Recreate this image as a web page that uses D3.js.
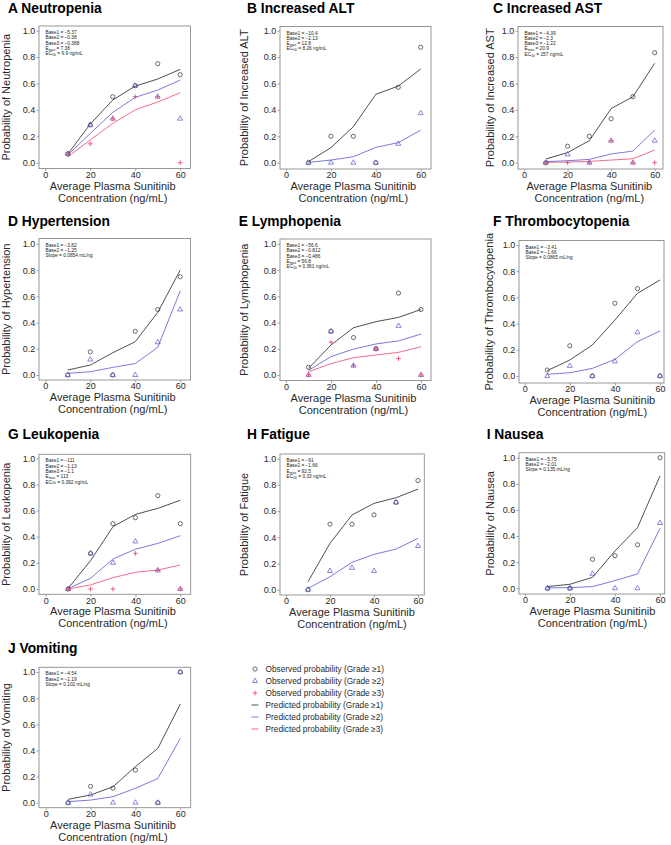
<!DOCTYPE html>
<html><head><meta charset="utf-8">
<script src="https://cdn.jsdelivr.net/npm/d3@7"></script>
<style>body{margin:0;background:#fff}svg{display:block}text{font-family:"Liberation Sans",Arial,Helvetica,sans-serif}</style>
</head><body><svg id="c" width="671" height="845"></svg>
<script>
// ---------------- DATA ----------------
const concentrations = [10, 20, 30, 40, 50, 60];
const panelLetters = ["A","B","C","D","E","F","G","H","I","J"];
const panelTitles = ["Neutropenia","Increased ALT","Increased AST","Hypertension","Lymphopenia",
  "Thrombocytopenia","Leukopenia","Fatigue","Nausea","Vomiting"];
const yAxisLabels = panelTitles.map(t => "Probability of " + t);
const xAxisLabelLines = ["Average Plasma Sunitinib", "Concentration (ng/mL)"];
const xTicks = [0, 20, 40, 60];
const yTicks = [0, 0.2, 0.4, 0.6, 0.8, 1.0];

// observed probabilities (one row per panel A..J)
const obsGrade1 = [
  [0.0667, 0.2857, 0.5, 0.5833, 0.75, 0.6667],
  [0, 0.2, 0.2, 0, 0.5714, 0.875],
  [0, 0.125, 0.2, 0.3333, 0.5, 0.8333],
  [0, 0.1765, 0, 0.3333, 0.5, 0.75],
  [0.0588, 0.3333, 0.2857, 0.2, 0.625, 0.5],
  [0.0455, 0.2308, 0, 0.5556, 0.6667, 0],
  [0, 0.2727, 0.5, 0.5455, 0.7143, 0.5],
  [0, 0.5, 0.5, 0.5714, 0.6667, 0.8333],
  [0, 0, 0.2222, 0.25, 0.3333, 1],
  [0, 0.125, 0.1111, 0.25, 0, 1]
];
const obsGrade2 = [
  [0.0667, 0.2857, 0.3333, 0.5833, 0.5, 0.3333],
  [0, 0, 0, 0, 0.1429, 0.375],
  [0, 0.0625, 0, 0.1667, 0, 0.1667],
  [0, 0.1176, 0, 0, 0.25, 0.5],
  [0, 0.3333, 0.0714, 0.2, 0.375, 0],
  [0, 0.0769, 0, 0.1111, 0.3333, 0],
  [0, 0.2727, 0.2, 0.3636, 0.1429, 0],
  [0, 0.1429, 0.1667, 0.1429, 0.6667, 0.3333],
  [0, 0, 0.1111, 0, 0, 0.5],
  [0, 0.0625, 0, 0, 0, 1]
];
const obsGrade3 = [
  [0.0667, 0.1429, 0.3333, 0.5, 0.5, 0],
  null,
  [0, 0, 0, 0.1667, 0, 0],
  null,
  [0, 0.25, 0.0714, 0.2, 0.125, 0],
  null,
  [0, 0, 0, 0.2727, 0.1429, 0],
  null, null, null
];
// predicted probabilities
const predGrade1 = [
  [0.066, 0.293, 0.475, 0.58, 0.634, 0.707],
  [0.008, 0.114, 0.273, 0.518, 0.58, 0.71],
  [0.028, 0.076, 0.167, 0.41, 0.5, 0.753],
  [0.038, 0.076, 0.17, 0.254, 0.478, 0.8],
  [0.051, 0.229, 0.361, 0.407, 0.44, 0.5],
  [0.041, 0.122, 0.237, 0.427, 0.631, 0.733],
  [0.005, 0.217, 0.477, 0.571, 0.617, 0.679],
  [0.061, 0.354, 0.57, 0.659, 0.702, 0.768],
  [0.013, 0.031, 0.084, 0.286, 0.464, 0.86],
  [0.026, 0.059, 0.122, 0.276, 0.416, 0.755]
];
const predGrade2 = [
  [0.058, 0.222, 0.381, 0.495, 0.55, 0.626],
  [0.002, 0.02, 0.045, 0.116, 0.152, 0.247],
  [0.008, 0.015, 0.025, 0.066, 0.088, 0.247],
  [0.013, 0.025, 0.058, 0.087, 0.211, 0.641],
  [0.036, 0.14, 0.198, 0.237, 0.26, 0.313],
  [0.013, 0.025, 0.058, 0.127, 0.262, 0.344],
  [0.003, 0.082, 0.23, 0.304, 0.349, 0.408],
  [0.01, 0.099, 0.209, 0.27, 0.31, 0.392],
  [0.003, 0.005, 0.013, 0.059, 0.11, 0.459],
  [0.008, 0.02, 0.046, 0.11, 0.186, 0.492]
];
const predGrade3 = [
  [0.045, 0.172, 0.298, 0.4, 0.46, 0.53],
  null,
  [0.003, 0.005, 0.01, 0.02, 0.03, 0.096],
  null,
  [0.025, 0.087, 0.132, 0.153, 0.173, 0.216],
  null,
  [0, 0.031, 0.087, 0.128, 0.145, 0.184],
  null, null, null
];
const annotations = [
  ["Base1 = \u22125.37","Base2 = \u22120.38","Base3 = \u22120.388","E_max = 7.38","EC_50 = 9.9 ng/mL"],
  ["Base1 = \u221210.4","Base2 = \u22122.13","E_max = 12.8","EC_50 = 8.26 ng/mL"],
  ["Base1 = \u22124.39","Base2 = \u22122.3","Base3 = \u22121.22","E_max = 20.9","EC_50 = 157 ng/mL"],
  ["Base1 = \u22123.82","Base2 = \u22121.25","Slope = 0.0854 mL/ng"],
  ["Base1 = \u221256.6","Base2 = \u22120.812","Base3 = \u22120.486","E_max = 56.8","EC_50 = 0.361 ng/mL"],
  ["Base1 = \u22123.41","Base2 = \u22121.66","Slope = 0.0865 mL/ng"],
  ["Base1 = \u2212111","Base2 = \u22121.13","Base3 = \u22121.1","E_max = 113","EC_50 = 0.392 ng/mL"],
  ["Base1 = \u221291","Base2 = \u22121.66","E_max = 92.5","EC_50 = 0.33 ng/mL"],
  ["Base1 = \u22125.75","Base2 = \u22122.01","Slope = 0.135 mL/ng"],
  ["Base1 = \u22124.54","Base2 = \u22121.19","Slope = 0.102 mL/ng"]
];
const legendLabels = [
  "Observed probability (Grade \u22651)","Observed probability (Grade \u22652)","Observed probability (Grade \u22653)",
  "Predicted probability (Grade \u22651)","Predicted probability (Grade \u22652)","Predicted probability (Grade \u22653)"
];

// ---------------- LAYOUT ----------------
// box [left, top, right, bottom]; axis anchors [x(0), x(60), y(0), y(1)]; title [x, y]; y-label x
const layout = [
  {box:[39,26,190.5,168.5],  ax:[45.3,180.2,162.7,30.7], title:[8,12.5],     ylx:10},
  {box:[280,26.5,431,169],   ax:[286,420.7,162.7,30.7],  title:[247,12.5],   ylx:248},
  {box:[518,26.5,663,169],   ax:[524,654.7,162.7,30.7],  title:[493,12.5],   ylx:494},
  {box:[39,238.5,190.5,380], ax:[45.3,180.2,375,244],    title:[8,225.5],    ylx:10},
  {box:[280,239,431,380.5],  ax:[286,421,375,244],       title:[238.7,225.5],ylx:248},
  {box:[519,240.5,664,383],  ax:[524.7,660,376,245],     title:[493,225.7],  ylx:493},
  {box:[39,454.3,190.7,594.3],ax:[45.7,180.3,589,458.3], title:[8,439.3],    ylx:10},
  {box:[280,454,424.3,595],  ax:[286,418,589.7,458.7],   title:[247,439.3],  ylx:248},
  {box:[519,452.7,664.7,594],ax:[525,660,588.3,457.7],   title:[486.7,439.3],ylx:494},
  {box:[39,667.3,190.7,807.7],ax:[45.7,180.3,802.7,672], title:[8,653],      ylx:10}
];
const colG1 = "#3c3c3c", colG2 = "#6b6bd9", colG3 = "#f25c7c";
const markG1 = "#2e2e2e", markG2 = "#5656c8", markG3 = "#ec3d66";
const axisCol = "#8c8c8c", textCol = "#2a2a2a";

const svg = d3.select("#c");

function drawPlus(sel, color){
  sel.append("path").attr("d","M-2.4,0H2.4M0,-2.4V2.4")
    .attr("stroke",color).attr("stroke-width",0.8).attr("fill","none");
}

panelLetters.forEach((letter, i) => {
  const L = layout[i];
  const [bl, bt, br, bb] = L.box;
  const x = d3.scaleLinear().domain([0, 60]).range([L.ax[0], L.ax[1]]);
  const y = d3.scaleLinear().domain([0, 1]).range([L.ax[2], L.ax[3]]);
  const g = svg.append("g");

  // title
  g.append("text").attr("x", L.title[0]).attr("y", L.title[1])
    .attr("font-size", 13.8).attr("font-weight", "bold").attr("fill", "#000")
    .text(letter + " " + panelTitles[i]);

  // box
  g.append("rect").attr("x", bl).attr("y", bt).attr("width", br - bl).attr("height", bb - bt)
    .attr("fill", "none").attr("stroke", axisCol).attr("stroke-width", 0.9);

  // axes
  const ya = g.append("g").attr("transform", `translate(${bl},0)`)
    .call(d3.axisLeft(y).tickValues(yTicks).tickFormat(d3.format(".1f")).tickSize(2.5).tickPadding(1.2));
  const xa = g.append("g").attr("transform", `translate(0,${bb})`)
    .call(d3.axisBottom(x).tickValues(xTicks).tickSize(2.5).tickPadding(0.5));
  [ya, xa].forEach(a => {
    a.select(".domain").remove();
    a.selectAll("line").attr("stroke", axisCol).attr("stroke-width", 0.8);
    a.selectAll("text").attr("font-size", 9).attr("fill", textCol)
      .attr("font-family", '"Liberation Sans",Arial,sans-serif');
  });

  // axis labels
  const xc = x(30);
  xAxisLabelLines.forEach((t, k) => {
    g.append("text").attr("x", xc).attr("y", bb + 21 + k * 12)
      .attr("text-anchor", "middle").attr("font-size", 11).attr("fill", textCol).text(t);
  });
  g.append("text").attr("transform", `translate(${L.ylx},${(bt + bb) / 2}) rotate(-90)`)
    .attr("text-anchor", "middle").attr("font-size", 11).attr("fill", textCol).text(yAxisLabels[i]);

  // annotation (one text per line)
  annotations[i].forEach((line, k) => {
    const yy = bt + 8 + k * 5.3;
    const t = g.append("text").attr("x", bl + 6.5).attr("y", yy)
      .attr("font-size", 4.8).attr("fill", "#222");
    if (line.includes("_")) {
      const [pre, rest] = line.split("_");
      const sp = rest.indexOf(" ");
      t.append("tspan").text(pre);
      t.append("tspan").attr("font-size", 3.4).attr("dy", 0.9).text(rest.slice(0, sp));
      t.append("tspan").attr("dy", -0.9).text(rest.slice(sp));
    } else {
      t.text(line);
    }
  });

  // predicted lines
  const line = d3.line().x((d, j) => x(concentrations[j])).y(d => y(d));
  [[predGrade3[i], colG3], [predGrade2[i], colG2], [predGrade1[i], colG1]].forEach(([vals, col]) => {
    if (!vals) return;
    g.append("path").attr("d", line(vals)).attr("fill", "none")
      .attr("stroke", col).attr("stroke-width", 0.9);
  });

  // observed markers
  obsGrade1[i].forEach((v, j) => {
    g.append("circle").attr("cx", x(concentrations[j])).attr("cy", y(v)).attr("r", 2.1)
      .attr("fill", "none").attr("stroke", markG1).attr("stroke-width", 0.7);
  });
  const tri = d3.symbol().type(d3.symbolTriangle).size(11);
  obsGrade2[i].forEach((v, j) => {
    g.append("path").attr("d", tri()).attr("transform", `translate(${x(concentrations[j])},${y(v)})`)
      .attr("fill", "none").attr("stroke", markG2).attr("stroke-width", 0.7);
  });
  if (obsGrade3[i]) obsGrade3[i].forEach((v, j) => {
    const p = g.append("g").attr("transform", `translate(${x(concentrations[j])},${y(v)})`);
    drawPlus(p, markG3);
  });
});

// legend
const lg = svg.append("g");
legendLabels.forEach((lab, k) => {
  const cy = 669 + k * 12;
  const cx = 255;
  if (k === 0) lg.append("circle").attr("cx", cx).attr("cy", cy).attr("r", 2.1)
      .attr("fill", "none").attr("stroke", markG1).attr("stroke-width", 0.7);
  else if (k === 1) lg.append("path").attr("d", d3.symbol().type(d3.symbolTriangle).size(11)())
      .attr("transform", `translate(${cx},${cy})`).attr("fill", "none").attr("stroke", markG2).attr("stroke-width", 0.7);
  else if (k === 2) drawPlus(lg.append("g").attr("transform", `translate(${cx},${cy})`), markG3);
  else lg.append("line").attr("x1", cx - 3.5).attr("x2", cx + 3.5).attr("y1", cy).attr("y2", cy)
      .attr("stroke", [colG1, colG2, colG3][k - 3]).attr("stroke-width", 0.9);
  lg.append("text").attr("x", 265.5).attr("y", cy + 3).attr("font-size", 8.3).attr("fill", textCol).text(lab);
});
</script></body></html>
